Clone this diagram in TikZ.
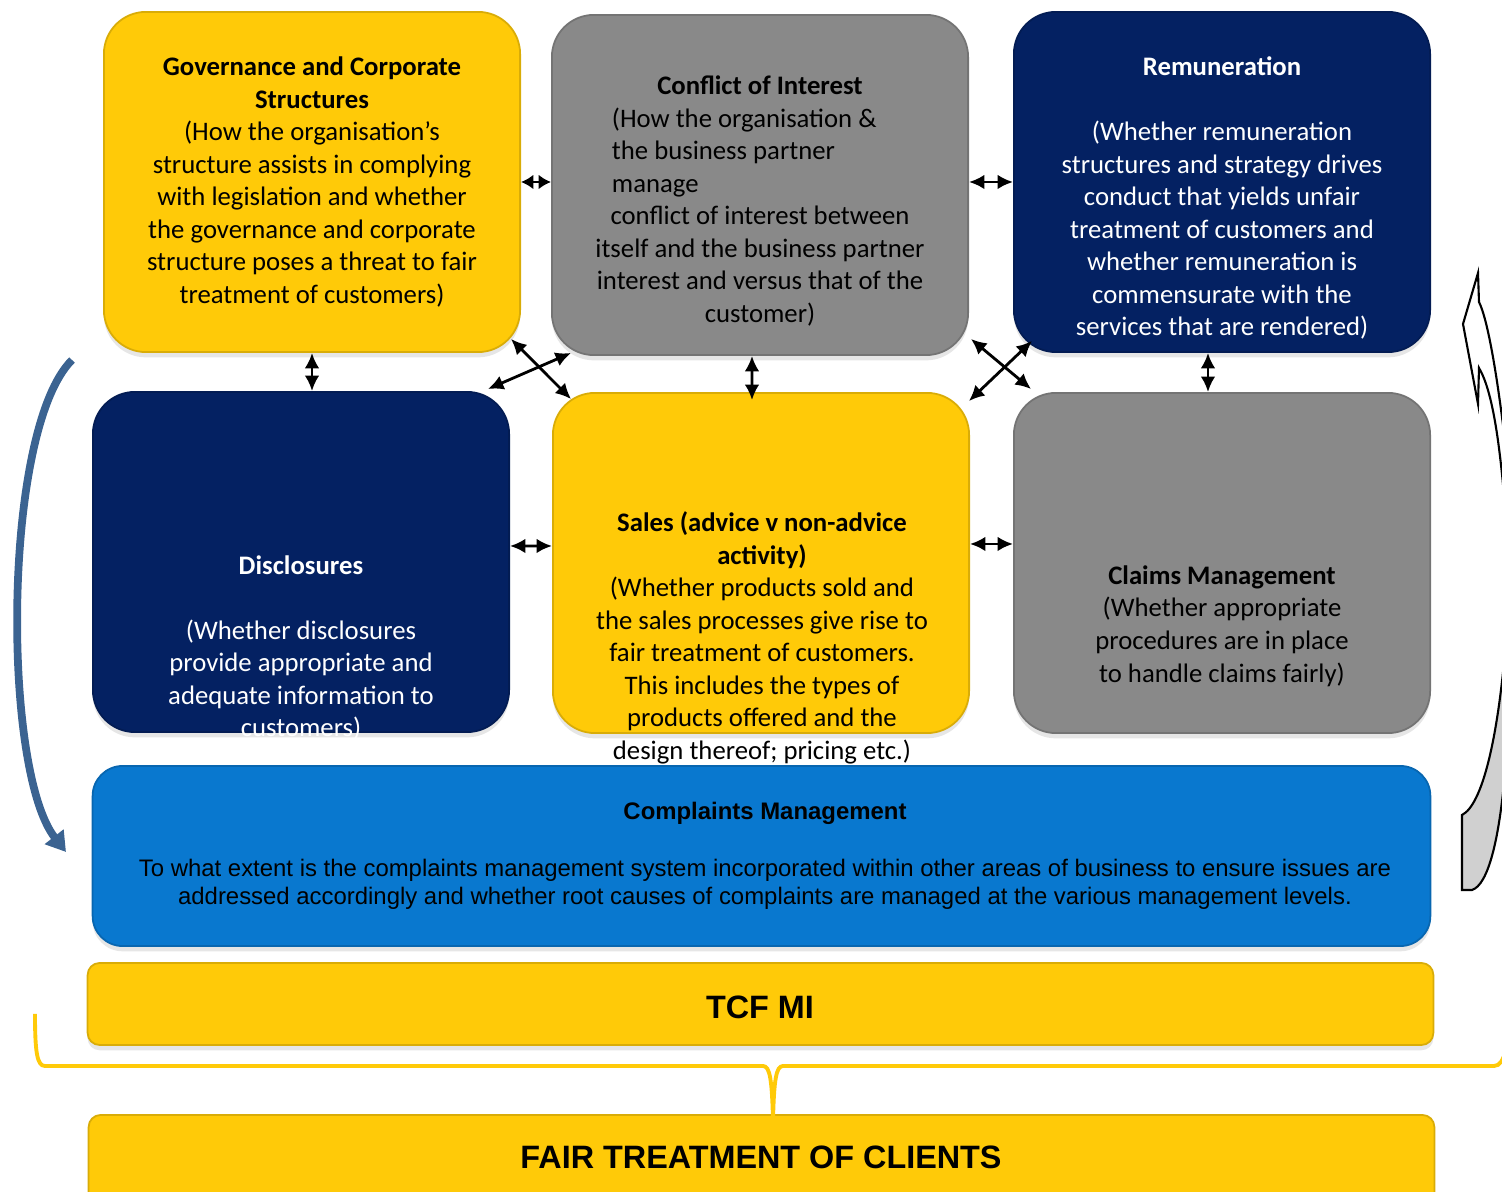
\documentclass[tikz,border=0pt]{standalone}
\usepackage{fontspec}
\setmainfont{Carlito}
\newfontfamily\arialfont{Liberation Sans}
\usetikzlibrary{arrows.meta,positioning,calc,shadows}
\definecolor{tcfyellow}{RGB}{255,202,8}
\definecolor{tcfgray}{RGB}{137,137,137}
\definecolor{tcfnavy}{RGB}{4,33,98}
\definecolor{tcfblue}{RGB}{9,120,207}
\definecolor{loopblue}{RGB}{59,99,145}
\definecolor{loopgray}{RGB}{208,208,208}
\newcommand{\pillfont}{\fontsize{7.6}{9.25}\selectfont}
\newcommand{\bandfont}{\arialfont\fontsize{6.8}{8}\selectfont}

\tikzset{
  pillar/.style={draw=#1!85!black, fill=#1, line width=0.5pt, rounded corners=0.42cm,
    minimum width=4.16cm, minimum height=3.4cm, inner sep=0pt,
    drop shadow={shadow xshift=0pt, shadow yshift=-1.5pt, opacity=0.2}},
  band/.style={draw=#1!85!black, fill=#1, line width=0.5pt, inner sep=0pt,
    drop shadow={shadow xshift=0pt, shadow yshift=-1.5pt, opacity=0.2}},
  pilltext/.style={font=\pillfont, align=center, inner sep=0pt},
  link/.style={{Latex[length=4.4pt,width=4.2pt]}-{Latex[length=4.4pt,width=4.2pt]}, line width=0.8pt},
  shortlink/.style={{Latex[length=3.5pt,width=4.2pt]}-{Latex[length=3.5pt,width=4.2pt]}, line width=0.8pt},
}

\begin{document}
\begin{tikzpicture}[x=0.01cm,y=-0.01cm]
  \useasboundingbox (0,0) rectangle (1502,1192);
  \clip (0,0) rectangle (1502,1192);

  % the six pillars
  \foreach \n/\x/\y/\col in {gov/312/182/tcfyellow, coi/760/185/tcfgray, rem/1222/182/tcfnavy,
                             dis/301/562/tcfnavy, sal/761/563/tcfyellow, clm/1222/563/tcfgray}
    \node[pillar=\col] (\n) at (\x,\y) {};

  % bands underneath
  \node[band=tcfblue, rounded corners=0.3cm, minimum width=13.37cm, minimum height=1.8cm] (cmp) at (761.5,856) {};
  \node[band=tcfyellow, rounded corners=0.12cm, minimum width=13.45cm, minimum height=0.82cm] (tcf) at (760.5,1004) {};
  \node[band=tcfyellow, rounded corners=0.12cm, minimum width=13.45cm, minimum height=1.0cm] (ftc) at (761.5,1165) {};

  % pillar texts
  \node[pilltext] (govtxt) at (312,182) {\textbf{Governance and Corporate}\\\textbf{Structures}\\
    (How the organisation’s\\structure assists in complying\\with legislation and whether\\
    the governance and corporate\\structure poses a threat to fair\\treatment of customers)};
  \node[pilltext] (coitxt) at (760,201) {\textbf{Conflict of Interest}\\
    \makebox[2.96cm][l]{(How the organisation \&}\\\makebox[2.96cm][l]{the business partner}\\
    \makebox[2.96cm][l]{manage}\\conflict of interest between\\itself and the business partner\\
    interest and versus that of the\\customer)};
  \node[pilltext, text=white] (remtxt) at (1222,198) {\textbf{Remuneration}\\\mbox{}\\
    (Whether remuneration\\structures and strategy drives\\conduct that yields unfair\\
    treatment of customers and\\whether remuneration is\\commensurate with the\\
    services that are rendered)};
  \node[pilltext, text=white] (distxt) at (301,648) {\textbf{Disclosures}\\\mbox{}\\
    (Whether disclosures\\provide appropriate and\\adequate information to\\customers)};
  \node[pilltext] (saltxt) at (762,638) {\textbf{Sales (advice v non-advice}\\\textbf{activity)}\\
    (Whether products sold and\\the sales processes give rise to\\fair treatment of customers.\\
    This includes the types of\\products offered and the\\design thereof; pricing etc.)};
  \node[pilltext] (clmtxt) at (1222,626) {\textbf{Claims Management}\\(Whether appropriate\\
    procedures are in place\\to handle claims fairly)};

  % band texts
  \node[font=\bandfont, align=center, inner sep=0pt] (cmptxt) at (765,856) {\textbf{Complaints Management}\\\mbox{}\\
    To what extent is the complaints management system incorporated within other areas of business to ensure issues are\\
    addressed accordingly and whether root causes of complaints are managed at the various management levels.};
  \node[font=\arialfont\bfseries\fontsize{9.2}{11}\selectfont, inner sep=0pt] (tcftxt) at (760,1007) {TCF MI};
  \node[font=\arialfont\bfseries\fontsize{9.2}{11}\selectfont, inner sep=0pt] (ftctxt) at (761,1157) {FAIR TREATMENT OF CLIENTS};

  % brace gathering the bands
  \draw[tcfyellow, line width=1.1pt] (35,1014) .. controls (35,1052) and (37,1066) .. (45,1066) -- (763,1066)
    .. controls (770,1066) and (772,1080) .. (773,1121)
    .. controls (774,1080) and (776,1066) .. (783,1066) -- (1494,1066)
    .. controls (1500,1066) and (1503,1060) .. (1506,1050);

  % links between pillars
  \draw[shortlink] (gov.east) -- (gov.east -| coi.west);
  \draw[link] (rem.west -| coi.east) -- (rem.west);
  \draw[link] (gov.south) -- (gov.south |- dis.north);
  \draw[link] ([xshift=-0.08cm]coi.south) -- ([xshift=-0.09cm,yshift=-0.08cm]sal.north);
  \draw[link] ([xshift=-0.14cm]rem.south) -- ([xshift=-0.14cm]clm.north);
  \draw[link] ([yshift=0.16cm]dis.east) -- ([yshift=0.17cm]sal.west);
  \draw[link] ([yshift=0.19cm]sal.east) -- ([yshift=0.19cm]clm.west);
  % crossed links
  \draw[link] ($(gov.south east)+(-10,-14)$) -- ($(sal.north west)+(19,7)$);
  \draw[link] ($(dis.north east)+(-22,-2)$) -- ($(coi.south west)+(20,-3)$);
  \draw[link] ($(coi.south east)+(2,-17)$) -- ($(clm.north west)+(18,-3)$);
  \draw[link] ($(sal.north east)+(-1,9)$) -- ($(rem.south west)+(19,-12)$);

  % feedback loop on the left
  \coordinate (loopA) at (72,360);
  \coordinate (loopB) at (66,852);
  \draw[loopblue, line width=2.2pt, -{Triangle[length=5.5pt,width=6.5pt]}] (loopA) .. controls (2,430) and (2,770) .. (loopB);

  % curved block arrow on the right
  \draw[line width=0.6pt, fill=white] (1478,273) -- (1463,324) -- (1478,404) -- (1479,368)
    .. controls (1492,390) and (1500,440) .. (1506,520) -- (1506,450)
    .. controls (1498,380) and (1488,320) .. (1479,302) -- cycle;
  \draw[line width=0.6pt, fill=loopgray] (1462,890) -- (1462,815)
    .. controls (1482,805) and (1498,740) .. (1506,640) -- (1506,760)
    .. controls (1500,840) and (1488,885) .. (1472,890) -- cycle;
\end{tikzpicture}
\end{document}
